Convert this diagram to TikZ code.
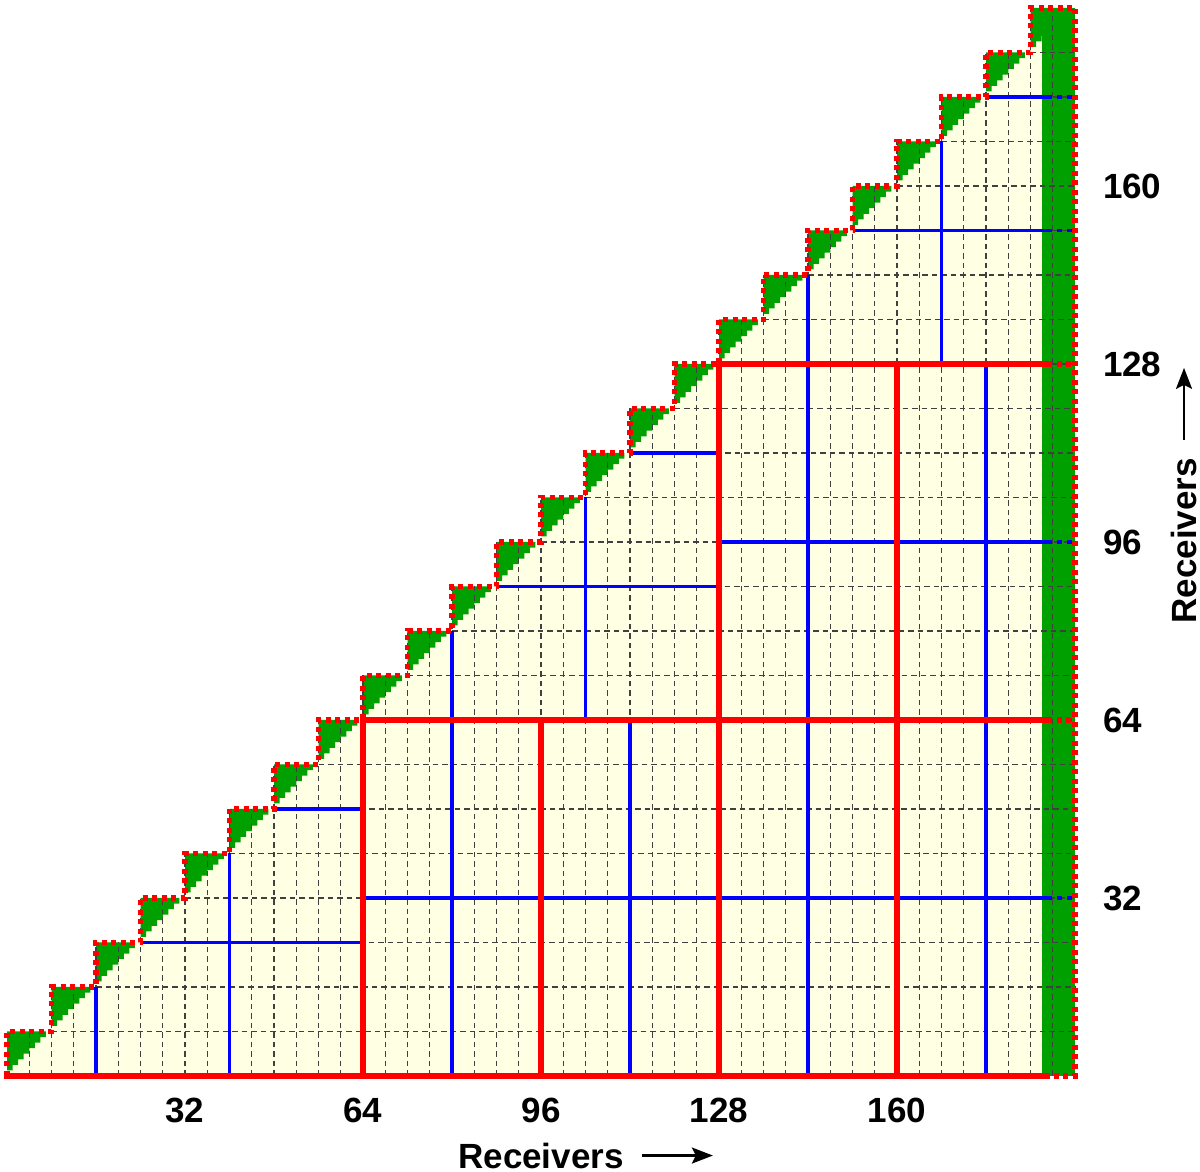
\documentclass[tikz,border=0pt]{standalone}
\usepackage{fontspec}
\setmainfont{Liberation Sans}
\usetikzlibrary{arrows.meta}
\definecolor{cream}{HTML}{FFFFE3}
\definecolor{cgreen}{HTML}{00A000}
\definecolor{cred}{HTML}{FF0000}
\definecolor{cblue}{HTML}{0000FF}
\begin{document}
\begin{tikzpicture}[x=5.5625pt,y=5.5625pt,
  gridline/.style={draw=black!75, line width=1.1pt, dash pattern=on 5.5pt off 4pt},
  redline/.style={draw=cred, line width=6.5pt, line cap=rect},
  blueline/.style={draw=cblue, line width=3.3pt},
  reddots/.style={draw=cred, line width=5.5pt, dash pattern=on 5pt off 4.5pt},
  bluedash/.style={draw=cblue, line width=3.3pt, dash pattern=on 5pt off 5pt},
  lab/.style={font=\fontsize{35}{40}\selectfont\bfseries, inner sep=0pt},
  arr/.style={draw=black, line width=2.4pt, -{Stealth[length=21pt,width=16pt,inset=4pt]}}]
\useasboundingbox (-7pt,-96pt) rectangle (1193pt,1076pt);

% cream staircase region
\fill[cream] (0,0) \foreach \k in {0,...,23}{ -- ({8*\k},{8*\k+8}) -- ({8*\k+8},{8*\k+8})} -- (192,0) -- cycle;

% green pixelated triangles on the diagonal
\foreach \k in {0,...,23}{
  \fill[cgreen] ({8*\k},{8*\k+8}) -- ({8*\k},{8*\k+1})
    \foreach \c in {1,...,7}{ -- ({8*\k+\c},{8*\k+\c}) -- ({8*\k+\c},{8*\k+\c+1})} -- cycle;
}

% green column
\fill[cgreen] (186,0) rectangle (192,192);

% dashed grid
\foreach \j in {1,...,47}{
  \pgfmathtruncatemacro\t{min(8*floor(\j/2)+8,192)}
  \draw[gridline] ({4*\j},0) -- ({4*\j},\t);
}
\foreach \j in {1,...,23}{
  \draw[gridline] ({8*\j},{8*\j}) -- (192,{8*\j});
}

% blue partition lines
\draw[blueline] (16,0) -- (16,16);
\draw[blueline] (24,24) -- (64,24);
\draw[blueline] (40,0) -- (40,40);
\draw[blueline] (48,48) -- (64,48);
\draw[blueline] (80,0) -- (80,80);
\draw[blueline] (64,32) -- (187,32);
\draw[blueline] (112,0) -- (112,64);
\draw[blueline] (88,88) -- (128,88);
\draw[blueline] (104,64) -- (104,104);
\draw[blueline] (112,112) -- (128,112);
\draw[blueline] (128,96) -- (187,96);
\draw[blueline] (144,0) -- (144,144);
\draw[blueline] (176,0) -- (176,128);
\draw[blueline] (152,152) -- (187,152);
\draw[blueline] (168,128) -- (168,168);
\draw[blueline] (176,176) -- (187,176);
\foreach \y in {32,96,152,176}{ \draw[bluedash] (187,\y) -- (192,\y); }

% red partition lines
\draw[redline] (0,0) -- (187,0);
\draw[redline] (64,0) -- (64,64) -- (187,64);
\draw[redline] (128,0) -- (128,128) -- (187,128);
\draw[redline] (96,0) -- (96,64);
\draw[redline] (160,0) -- (160,128);
\foreach \y in {64,128}{ \draw[reddots] (187,\y) -- (192,\y); }

% red dotted outline
\draw[reddots] (0,0) \foreach \k in {0,...,23}{ -- ({8*\k},{8*\k+8}) -- ({8*\k+8},{8*\k+8})} -- (192,0) -- (187,0);

% labels
\foreach \v in {32,64,96,128,160}{
  \node[lab] (bx\v) at (\v,-6.2) {\v};
  \node[lab,anchor=west] (ry\v) at (197,\v) {\v};
}
\node[lab] (xl) at (96,-14.3) {Receivers};
\coordinate (xe) at (126.9,-14.3);
\draw[arr] ([xshift=18pt]xl.east) -- (xe);
\node[lab,rotate=90] (yl) at (211.6,96.2) {Receivers};
\coordinate (ye) at (211.6,127.3);
\draw[arr] ([yshift=18pt]yl.east) -- (ye);
\end{tikzpicture}
\end{document}
